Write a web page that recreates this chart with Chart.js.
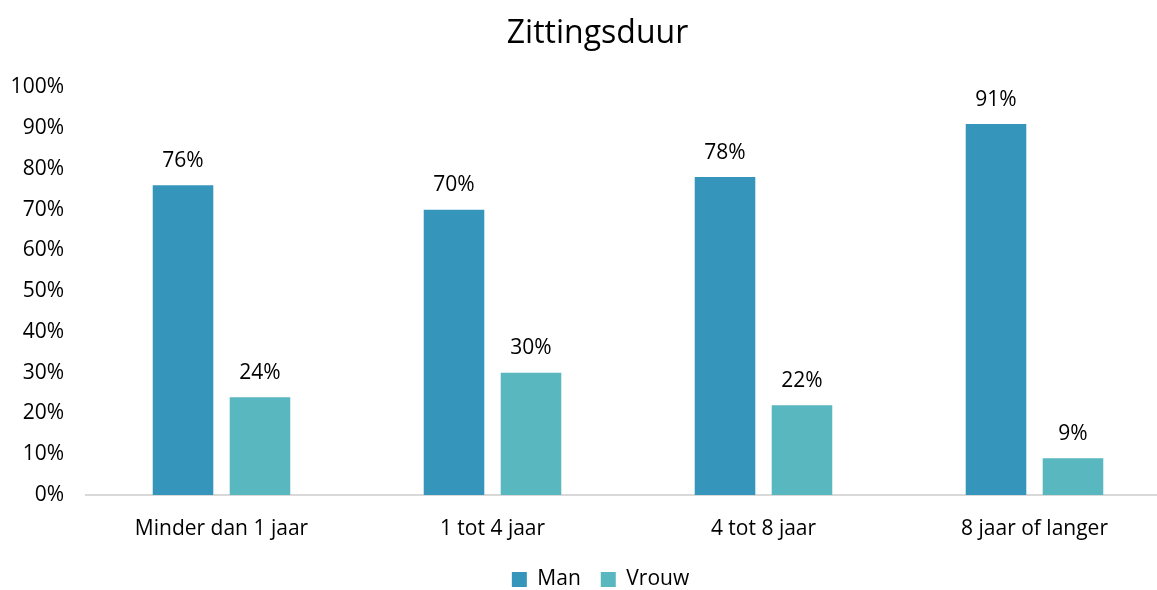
<!DOCTYPE html>
<html>
<head>
<meta charset="utf-8">
<script src="https://cdn.jsdelivr.net/npm/chart.js@4/dist/chart.umd.min.js"></script>
<style>
  html, body { margin: 0; padding: 0; background: #fff; }
  #wrap { width: 1157px; height: 590px; }
</style>
</head>
<body>
<div id="wrap"><canvas id="chart"></canvas></div>
<script>
const categories = ['Minder dan 1 jaar', '1 tot 4 jaar', '4 tot 8 jaar', '8 jaar of langer'];
const manValues = [76, 70, 78, 91];
const vrouwValues = [24, 30, 22, 9];

// draws the value labels above each bar
const barLabels = {
  id: 'barLabels',
  afterDatasetsDraw(chart) {
    const ctx = chart.ctx;
    ctx.save();
    ctx.font = '21px "Open Sans"';
    ctx.fillStyle = '#000';
    ctx.textAlign = 'center';
    ctx.textBaseline = 'bottom';
    chart.data.datasets.forEach((ds, i) => {
      chart.getDatasetMeta(i).data.forEach((bar, j) => {
        ctx.fillText(ds.data[j] + '%', bar.x, bar.y - 14);
      });
    });
    ctx.restore();
  }
};

// the original plot runs a little past the right edge, and title/legend sit right of centre
const tweakLayout = {
  id: 'tweakLayout',
  afterLayout(chart) {
    const move = (box, dx) => { box.left += dx; box.right += dx; };
    move(chart.titleBlock, 8);
    move(chart.legend, 11);
    const x = chart.scales.x;
    x.right += 13;
    x.width += 13;
    x.configure();
    chart.chartArea.right += 13;
    chart.chartArea.width += 13;
  }
};

new Chart(document.getElementById('chart'), {
  type: 'bar',
  data: {
    labels: categories,
    datasets: [
      { label: 'Man', data: manValues, backgroundColor: '#3595ba' },
      { label: 'Vrouw', data: vrouwValues, backgroundColor: '#59b7bf' }
    ]
  },
  options: {
    responsive: true,
    maintainAspectRatio: false,
    animation: false,
    categoryPercentage: 0.568,
    barPercentage: 0.787,
    layout: { padding: { left: 9, right: -13, top: 0, bottom: -10 } },
    plugins: {
      title: {
        display: true,
        text: 'Zittingsduur',
        color: '#000',
        font: { family: 'Open Sans', size: 32, weight: 'normal' },
        padding: { top: 15, bottom: 34 }
      },
      legend: {
        position: 'bottom',
        labels: {
          color: '#000',
          font: { family: 'Open Sans', size: 21 },
          boxWidth: 15,
          boxHeight: 15,
          padding: 20
        }
      },
      tooltip: { enabled: false }
    },
    scales: {
      x: {
        grid: { display: false, drawTicks: false },
        border: { color: '#d9d9d9', width: 2 },
        ticks: { color: '#000', font: { family: 'Open Sans', size: 21 }, padding: 21 },
        afterFit: scale => { scale.height = 54; }
      },
      y: {
        min: 0,
        max: 100,
        grid: { display: false, drawTicks: false },
        border: { display: false },
        ticks: {
          stepSize: 10,
          color: '#000',
          font: { family: 'Open Sans', size: 21 },
          padding: 22,
          callback: v => v + '%'
        },
        afterFit: scale => { scale.width = 77; }
      }
    }
  },
  plugins: [barLabels, tweakLayout]
});
</script>
</body>
</html>
